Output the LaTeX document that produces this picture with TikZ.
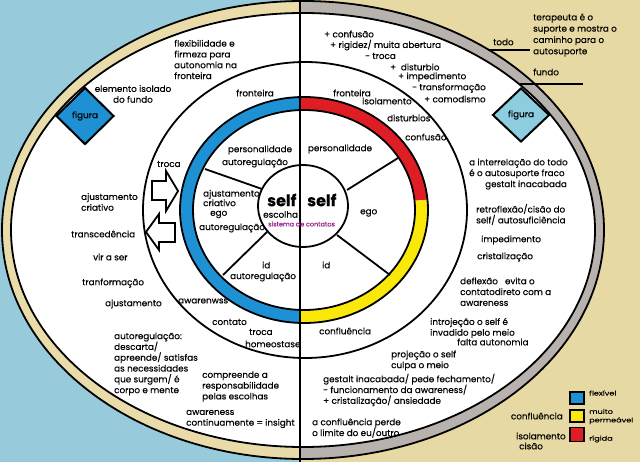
\documentclass[tikz,border=0pt]{standalone}
\usepackage{fontspec}
\setmainfont{Poppins}[FakeBold=0.3]
\newfontfamily\legfont[FakeStretch=1.25,FakeBold=0.3]{Poppins}
\usetikzlibrary{shapes.geometric}
\definecolor{bgblue}{RGB}{151,202,219}
\definecolor{bgbeige}{RGB}{231,217,163}
\definecolor{bandbeige}{RGB}{234,220,170}
\definecolor{bandgray}{RGB}{183,178,174}
\definecolor{ringblue}{RGB}{30,144,212}
\definecolor{ringred}{RGB}{222,30,36}
\definecolor{ringyellow}{RGB}{250,232,10}
\definecolor{diablue}{RGB}{141,205,224}
\definecolor{selfpurple}{RGB}{150,30,140}
\begin{document}
\begin{tikzpicture}[x=1pt,y=-1pt,
  txt/.style={font=\fontsize{8.8}{10.8}\selectfont, inner sep=0pt, anchor=west, align=left, text=black},
  ctxt/.style={txt, anchor=center, align=center},
  legtxt/.style={font=\legfont\fontsize{6.5}{8.5}\selectfont, inner sep=0pt, anchor=west, align=left},
  outl/.style={line width=1.8pt},
  blockarrow/.style={line width=1.8pt, fill=white, line join=miter},
  legbox/.style={draw, line width=1.8pt, minimum width=14pt, minimum height=12pt, inner sep=0pt},
  pointer/.style={line width=2pt}
]
\useasboundingbox (0,0) rectangle (640,462);
% background
\fill[bgblue] (0,0) rectangle (300,462);
\fill[bgbeige] (300,0) rectangle (640,462);
% outer band
\begin{scope}
\clip (0,0) rectangle (300,462);
\fill[bandbeige] (303,230) ellipse [x radius=301pt, y radius=229pt];
\end{scope}
\begin{scope}
\clip (300,0) rectangle (640,462);
\fill[bandgray] (303,230) ellipse [x radius=301pt, y radius=229pt];
\end{scope}
\fill[white] (303,230) ellipse [x radius=292pt, y radius=217pt];
\draw[outl] (303,230) ellipse [x radius=301pt, y radius=229pt];
\draw[outl] (303,230) ellipse [x radius=292pt, y radius=217pt];
% middle ellipse
\draw[outl] (305,210) ellipse [x radius=162pt, y radius=148pt];
% coloured ring
\begin{scope}
\clip (0,0) rectangle (300,462);
\fill[ringblue, even odd rule] (304,210) ellipse [x radius=124pt, y radius=113pt] (304,210) ellipse [x radius=111pt, y radius=100pt];
\end{scope}
\begin{scope}
\clip (300,0) -- (640,0) -- (640,182) -- (304,210) -- (300,210) -- cycle;
\fill[ringred, even odd rule] (304,210) ellipse [x radius=124pt, y radius=113pt] (304,210) ellipse [x radius=111pt, y radius=100pt];
\end{scope}
\begin{scope}
\clip (300,210) -- (304,210) -- (640,182) -- (640,462) -- (300,462) -- cycle;
\fill[ringyellow, even odd rule] (304,210) ellipse [x radius=124pt, y radius=113pt] (304,210) ellipse [x radius=111pt, y radius=100pt];
\end{scope}
\draw[outl] (304,210) ellipse [x radius=124pt, y radius=113pt];
\draw[outl] (304,210) ellipse [x radius=111pt, y radius=100pt];
% self circle and spokes
\draw[outl, fill=white] (303,206) ellipse [x radius=45pt, y radius=41pt];
\draw[outl] (262,189) -- (205,169);
\draw[outl] (267,232) -- (223,275);
\draw[outl] (347,190) -- (398,158);
\draw[outl] (337,235) -- (390,275);
% vertical divider
\draw[line width=2pt] (300,0) -- (300,462);
% block arrows
\draw[blockarrow] (152,181) -- (166,181) -- (166,171) -- (178,191) -- (166,211) -- (166,200) -- (152,200) -- cycle;
\draw[blockarrow] (175,223) -- (159,223) -- (159,214) -- (146,232) -- (159,250) -- (159,242) -- (175,242) -- cycle;
% diamonds
\node[diamond, draw, line width=2pt, fill=ringblue, minimum width=58pt, minimum height=57pt, inner sep=0pt, font=\fontsize{8.8}{10}\selectfont] (fig1) at (85,116) {figura};
\node[diamond, draw, line width=2pt, fill=diablue, minimum width=57pt, minimum height=54pt, inner sep=0pt, font=\fontsize{8.8}{10}\selectfont] (fig2) at (521,115) {figura};
% pointer lines
\coordinate (todoA) at (488,50);
\coordinate (todoB) at (530,50);
\coordinate (fundoA) at (519,84);
\coordinate (fundoB) at (583,84);
\draw[pointer] (todoA) -- (todoB);
\draw[pointer] (fundoA) -- (fundoB);
% self texts
\node[font=\fontsize{16}{16}\selectfont\bfseries, inner sep=0pt, anchor=west] (selfL) at (267,200) {self};
\node[font=\fontsize{16}{16}\selectfont\bfseries, inner sep=0pt, anchor=west] (selfR) at (307,200) {self};
\node[txt] (escolha) at (263,214.5) {escolha};
\node[font=\fontsize{6.5}{7}\selectfont, text=selfpurple, inner sep=0pt, anchor=west] (sist) at (268,224) {sistema de contatos};
% left half texts
\node[txt] (l1) at (174,59.5) {flexibilidade e\\firmeza para\\autonomia na\\fronteira};
\node[ctxt] (l2) at (133,94) {elemento isolado\\do fundo};
\node[ctxt] (l3) at (255,93) {fronteira};
\node[ctxt] (l4) at (260,150) {personalidade};
\node[ctxt] (l5) at (255,163) {autoregulação};
\node[txt] (l6) at (157,164) {troca};
\node[txt] (l7) at (81,202) {ajustamento\\criativo};
\node[txt, font=\fontsize{8.8}{9.6}\selectfont] (l8) at (203,204) {ajustamento\\criativo\\\hspace*{7pt}ego};
\node[txt] (l10) at (199,228) {autoregulação};
\node[txt] (l11) at (71,234) {transcedência};
\node[txt] (l12) at (93,257) {vir a ser};
\node[txt] (l13) at (82,283) {tranformação};
\node[txt] (l14) at (105,304) {ajustamento};
\node[txt] (l15) at (262,265) {id};
\node[txt] (l16) at (230,277) {autoregulação};
\node[txt] (l17) at (178,301) {awarenwss};
\node[txt] (l18) at (212,322) {contato};
\node[txt] (l19) at (249,332) {troca};
\node[txt] (l20) at (245,344) {homeostase};
\node[txt] (l21) at (114,364) {autoregulação:\\descarta/\\apreende/ satisfas\\as necessidades\\que surgem/ é\\corpo e mente};
\node[txt] (l22) at (202,386.5) {compreende a\\responsabilidade\\pelas escolhas};
\node[txt] (l23) at (186,419) {awareness\\continuamente = insight};
% right half texts
\node[txt] (r1) at (324,34) {+ confusão};
\node[txt] (r2) at (330,45) {+ rigidez/ muita abertura};
\node[txt] (r3) at (365,56) {- troca};
\node[txt] (r4) at (390,67) {+\ \ disturbio};
\node[txt] (r5) at (398,77) {+ impedimento};
\node[txt] (r6) at (412,88) {- transformação};
\node[txt] (r7) at (424,99) {+ comodismo};
\node[txt, font=\fontsize{8.8}{11.3}\selectfont] (r8) at (533,35) {terapeuta é o\\suporte e mostra o\\caminho para o\\autosuporte};
\node[txt] (r9) at (493,42) {todo};
\node[txt] (r10) at (533,72) {fundo};
\node[txt] (r11) at (333,93) {fronteira};
\node[txt] (r12) at (362,101) {isolamento};
\node[txt] (r13) at (387,118) {disturbios};
\node[txt] (r14) at (405,137) {confusão};
\node[ctxt] (r15) at (340,149) {personalidade};
\node[txt] (r16) at (360,213) {ego};
\node[txt] (r17) at (322,265) {id};
\node[txt] (r18) at (319,331) {confluência};
\node[txt] (r19) at (469,168.5) {a interrelação do todo\\é o autosuporte fraco};
\node[txt] (r20) at (485,185) {gestalt inacabada};
\node[txt] (r21) at (476,214.5) {retroflexão/cisão do\\self/ autosuficiência};
\node[txt] (r22) at (481,240) {impedimento};
\node[txt] (r23) at (477,257) {cristalização};
\node[txt] (r24) at (460,291.7) {deflexão\ \ \ evita o\\contatodireto com a\\awareness};
\node[txt] (r25) at (430,328) {introjeção o self é\\invadido pelo meio};
\node[txt] (r26) at (457,342) {falta autonomia};
\node[txt] (r27) at (391,360.5) {projeção o self\\culpa o meio};
\node[txt] (r28) at (323,390) {gestalt inacabada/ pede fechamento/\\- funcionamento da awareness/\\+ cristalização/ ansiedade};
\node[txt] (r29) at (312,428) {a confluência perde\\o limite do eu/outro};
% legend
\node[legbox, fill=ringblue] (lgb) at (577,398) {};
\node[legbox, fill=ringyellow] (lgy) at (577,416) {};
\node[legbox, fill=ringred, minimum height=14pt] (lgr) at (577,434.5) {};
\node[legtxt] (lgt1) at (589,393) {flexível};
\node[legtxt] (lgt2) at (589,416.5) {muito\\permeável};
\node[legtxt] (lgt3) at (589,439) {rígida};
\node[txt, anchor=east] (lgc) at (563,416) {confluência};
\node[txt] (lgi) at (516,436) {isolamento};
\node[txt] (lgc2) at (519,446) {cisão};
\end{tikzpicture}
\end{document}
